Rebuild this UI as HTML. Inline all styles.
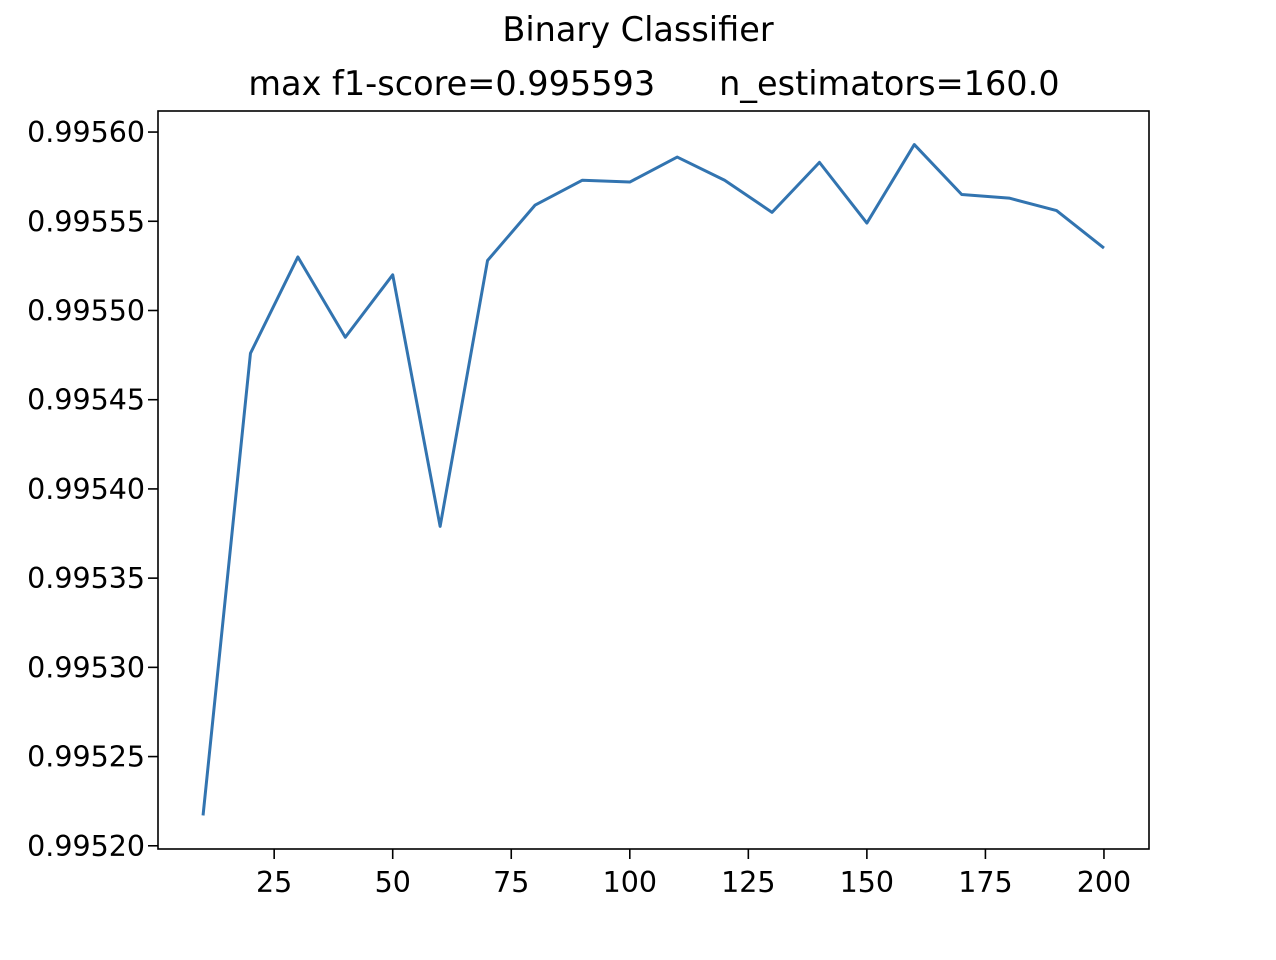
<!DOCTYPE html>
<html><head><meta charset="utf-8"><style>
body{margin:0;background:#fff;font-family:"DejaVu Sans","Liberation Sans",sans-serif;}
</style></head><body>
<svg id="chart" width="1276" height="956" xmlns="http://www.w3.org/2000/svg" font-family="DejaVu Sans, Liberation Sans, sans-serif">
<rect width="1276" height="956" fill="#fff"/>
<text x="638" y="41" text-anchor="middle" font-size="33.5">Binary Classifier</text>
<text x="654" y="95" text-anchor="middle" font-size="33.5" xml:space="preserve">max f1-score=0.995593      n_estimators=160.0</text>
<g id="ticks"></g>
<polyline id="line" fill="none" stroke="#3274b0" stroke-width="3" stroke-linejoin="round"/>
<rect x="158" y="111" width="991" height="738" fill="none" stroke="#000" stroke-width="1.6"/>
</svg>
<script>
const xs=[10,20,30,40,50,60,70,80,90,100,110,120,130,140,150,160,170,180,190,200];
const ys=[0.995217,0.995476,0.995530,0.995485,0.995520,0.995379,0.995528,0.995559,0.995573,0.995572,0.995586,0.995573,0.995555,0.995583,0.995549,0.995593,0.995565,0.995563,0.995556,0.995535];
const xTicks=[25,50,75,100,125,150,175,200];
const yTicks=[0.99520,0.99525,0.99530,0.99535,0.99540,0.99545,0.99550,0.99555,0.99560];
const L=158,R=1149,T=111,B=849;
const x0=0.5,x1=209.5,y0=0.9951982,y1=0.9956118;
const sx=v=>L+(v-x0)/(x1-x0)*(R-L);
const sy=v=>B-(v-y0)/(y1-y0)*(B-T);
const NS="http://www.w3.org/2000/svg";
const g=document.getElementById('ticks');
function mk(t,a){const e=document.createElementNS(NS,t);for(const k in a)e.setAttribute(k,a[k]);return e;}
xTicks.forEach(v=>{
 const l=mk('line',{x1:sx(v),x2:sx(v),y1:B,y2:B+10,stroke:'#000','stroke-width':1.6});
 
 
 g.appendChild(l);
 const t=mk('text',{x:sx(v),y:B+43,'text-anchor':'middle','font-size':28.5});
 
 
 t.textContent=v;g.appendChild(t);
});
yTicks.forEach(v=>{
 const l=mk('line',{x1:L-10,x2:L,y1:sy(v),y2:sy(v),stroke:'#000','stroke-width':1.6});
 
 
 g.appendChild(l);
 const t=mk('text',{x:L-13,y:sy(v)+10,'text-anchor':'end','font-size':28.5});
 
 
 t.textContent=v.toFixed(5);g.appendChild(t);
});
document.getElementById('line').setAttribute('points',xs.map((x,i)=>sx(x)+','+sy(ys[i])).join(' '));
</script>
</body></html>
